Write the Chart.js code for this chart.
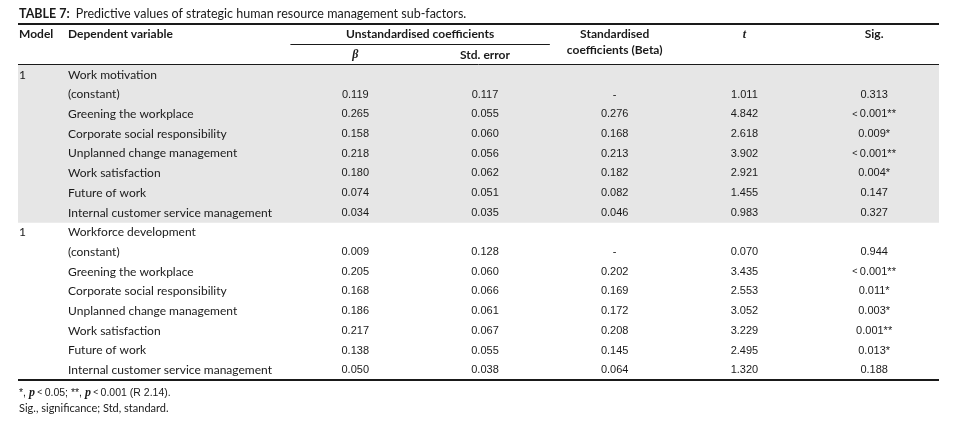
<!DOCTYPE html>
<html>
<head>
<meta charset="utf-8">
<script src="https://cdn.jsdelivr.net/npm/chart.js@4.4.1/dist/chart.umd.min.js"></script>
<style>
  html, body { margin: 0; padding: 0; background: #fff; }
  #wrap { width: 956px; height: 422px; position: relative; }
</style>
</head>
<body>
<div id="wrap"><canvas id="table7"></canvas></div>
<script>
// Table content
const titleBold = "TABLE 7:";
const titleText = "Predictive values of strategic human resource management sub-factors.";
const modelLabels = ["1", "1"];
const groupNames = ["Work motivation", "Workforce development"];
const predictors = [
  "(constant)",
  "Greening the workplace",
  "Corporate social responsibility",
  "Unplanned change management",
  "Work satisfaction",
  "Future of work",
  "Internal customer service management",
];

// Work motivation
const motivationB = [0.119, 0.265, 0.158, 0.218, 0.18, 0.074, 0.034];
const motivationSE = [0.117, 0.055, 0.06, 0.056, 0.062, 0.051, 0.035];
const motivationBeta = [null, 0.276, 0.168, 0.213, 0.182, 0.082, 0.046];
const motivationT = [1.011, 4.842, 2.618, 3.902, 2.921, 1.455, 0.983];
const motivationSig = ["0.313", "< 0.001**", "0.009*", "< 0.001**", "0.004*", "0.147", "0.327"];

// Workforce development
const developmentB = [0.009, 0.205, 0.168, 0.186, 0.217, 0.138, 0.05];
const developmentSE = [0.128, 0.06, 0.066, 0.061, 0.067, 0.055, 0.038];
const developmentBeta = [null, 0.202, 0.169, 0.172, 0.208, 0.145, 0.064];
const developmentT = [0.07, 3.435, 2.553, 3.052, 3.229, 2.495, 1.32];
const developmentSig = ["0.944", "< 0.001**", "0.011*", "0.003*", "0.001**", "0.013*", "0.188"];

const groupShaded = [true, false];

// Layout (in scale units): numeric columns sit at 0..4, rows at 0..15
const X_MIN = -2.6;
const X_MAX = 4.5;
const colX = { model: -2.592, dep: -2.214, b: 0, se: 1, beta: 2, t: 3, sig: 4 };
const rowY = {
  title: -3.07, topRule: -2.58, head1: -2.05, head1b: -1.28,
  underline: -1.57, head2: -1.0, headRule: -0.55,
  note1: 16.15, note2: 16.96,
};

const INK = "#1a1a1a";
const SHADE = "#e6e6e6";
const TEXT_FONT = "12px Lato";
const BOLD_FONT = "bold 12px Lato";
const NUM_FONT = "11px 'Liberation Sans'";
const GREEK_FONT = "bold italic 12px 'Liberation Serif'";

const groups = [
  { b: motivationB, se: motivationSE, beta: motivationBeta, t: motivationT, sig: motivationSig },
  { b: developmentB, se: developmentSE, beta: developmentBeta, t: developmentT, sig: developmentSig },
];

const rowLabels = [];
const shadeData = [];
groupNames.forEach((name, g) => {
  [name, ...predictors].forEach((label) => {
    rowLabels.push(label);
    shadeData.push(groupShaded[g] ? [X_MIN, X_MAX] : null);
  });
});

// Draw a sequence of differently styled text pieces
function drawRuns(ctx, x, y, runs, align) {
  let total = 0;
  runs.forEach((r) => {
    ctx.font = r.font;
    r.w = ctx.measureText(r.text).width;
    total += r.w;
  });
  let cx = align === "center" ? x - total / 2 : x;
  ctx.textAlign = "left";
  runs.forEach((r) => {
    ctx.font = r.font;
    ctx.fillText(r.text, cx, y + (r.dy || 0));
    cx += r.w;
  });
}

function sigRuns(text) {
  if (text.startsWith("<")) {
    return [
      { text: "<", font: "9px 'Liberation Sans'" },
      { text: "\u2009" + text.slice(2), font: NUM_FONT },
    ];
  }
  return [{ text: text, font: NUM_FONT }];
}

function fmt(v) {
  return v === null ? "-" : v.toFixed(3);
}

const tablePlugin = {
  id: "tableText",
  afterDatasetsDraw(chart) {
    const { ctx } = chart;
    const x = chart.scales.x;
    const y = chart.scales.y;
    const px = (v) => x.getPixelForValue(v);
    const py = (v) => y.getPixelForValue(v);

    ctx.save();
    ctx.fillStyle = INK;
    ctx.strokeStyle = INK;
    ctx.textBaseline = "middle";

    function rule(yv, x0, x1, width) {
      const yy = Math.round(py(yv)) + (width % 2 ? 0.5 : 0);
      ctx.lineWidth = width;
      ctx.beginPath();
      ctx.moveTo(px(x0), yy);
      ctx.lineTo(px(x1), yy);
      ctx.stroke();
    }

    // Title
    drawRuns(ctx, px(colX.model), py(rowY.title), [
      { text: titleBold + "  ", font: "bold 12.5px Lato" },
      { text: titleText, font: "12.5px Lato" },
    ], "left");

    // Rules
    rule(rowY.topRule, X_MIN, X_MAX, 2);
    rule(rowY.underline, colX.b - 0.5, colX.se + 0.5, 1);
    rule(rowY.headRule, X_MIN, X_MAX, 1);
    rule(15.5, X_MIN, X_MAX, 2);

    // Header
    ctx.font = BOLD_FONT;
    ctx.textAlign = "left";
    ctx.fillText("Model", px(colX.model), py(rowY.head1));
    ctx.fillText("Dependent variable", px(colX.dep), py(rowY.head1));
    ctx.textAlign = "center";
    ctx.fillText("Unstandardised coefficients", px((colX.b + colX.se) / 2), py(rowY.head1));
    ctx.fillText("Standardised", px(colX.beta), py(rowY.head1));
    ctx.fillText("coefficients (Beta)", px(colX.beta), py(rowY.head1b));
    ctx.fillText("Sig.", px(colX.sig), py(rowY.head1));
    ctx.fillText("Std. error", px(colX.se), py(rowY.head2));
    ctx.font = GREEK_FONT;
    ctx.fillText("t", px(colX.t), py(rowY.head1));
    ctx.fillText("\u03b2", px(colX.b), py(rowY.head2));

    // Body
    let row = 0;
    groups.forEach((grp, g) => {
      ctx.font = TEXT_FONT;
      ctx.textAlign = "left";
      ctx.fillText(modelLabels[g], px(colX.model), py(row));
      ctx.fillText(groupNames[g], px(colX.dep), py(row));
      row++;
      predictors.forEach((name, i) => {
        const yy = py(row);
        ctx.font = TEXT_FONT;
        ctx.textAlign = "left";
        ctx.fillText(name, px(colX.dep), yy);
        ctx.font = NUM_FONT;
        ctx.textAlign = "center";
        ctx.fillText(fmt(grp.b[i]), px(colX.b), yy);
        ctx.fillText(fmt(grp.se[i]), px(colX.se), yy);
        ctx.fillText(fmt(grp.beta[i]), px(colX.beta), yy);
        ctx.fillText(fmt(grp.t[i]), px(colX.t), yy);
        drawRuns(ctx, px(colX.sig), yy, sigRuns(grp.sig[i]), "center");
        row++;
      });
    });

    // Footnotes
    const noteFont = "11px Lato";
    const noteNum = "10.5px 'Liberation Sans'";
    const pFont = "bold italic 12px 'Liberation Serif'";
    const ltFont = "8.5px 'Liberation Sans'";
    drawRuns(ctx, px(colX.model), py(rowY.note1), [
      { text: "*, ", font: noteNum },
      { text: "p", font: pFont },
      { text: " < ", font: ltFont },
      { text: "0.05; **, ", font: noteNum },
      { text: "p", font: pFont },
      { text: " < ", font: ltFont },
      { text: "0.001 (R 2.14).", font: noteNum },
    ], "left");
    ctx.font = noteFont;
    ctx.textAlign = "left";
    ctx.fillText("Sig., significance; Std, standard.", px(colX.model), py(rowY.note2));

    ctx.restore();
  },
};

new Chart(document.getElementById("table7"), {
  type: "bar",
  data: {
    labels: rowLabels,
    datasets: [
      {
        label: "shade",
        data: shadeData,
        backgroundColor: SHADE,
        borderWidth: 0,
        barPercentage: 1,
        categoryPercentage: 1,
      },
    ],
  },
  options: {
    indexAxis: "y",
    responsive: true,
    maintainAspectRatio: false,
    animation: false,
    layout: { padding: { top: 65, bottom: 42, left: 18, right: 17 } },
    plugins: { legend: { display: false }, tooltip: { enabled: false } },
    scales: {
      x: { type: "linear", min: X_MIN, max: X_MAX, display: false },
      y: { type: "category", display: false, offset: true },
    },
  },
  plugins: [tablePlugin],
});
</script>
</body>
</html>
